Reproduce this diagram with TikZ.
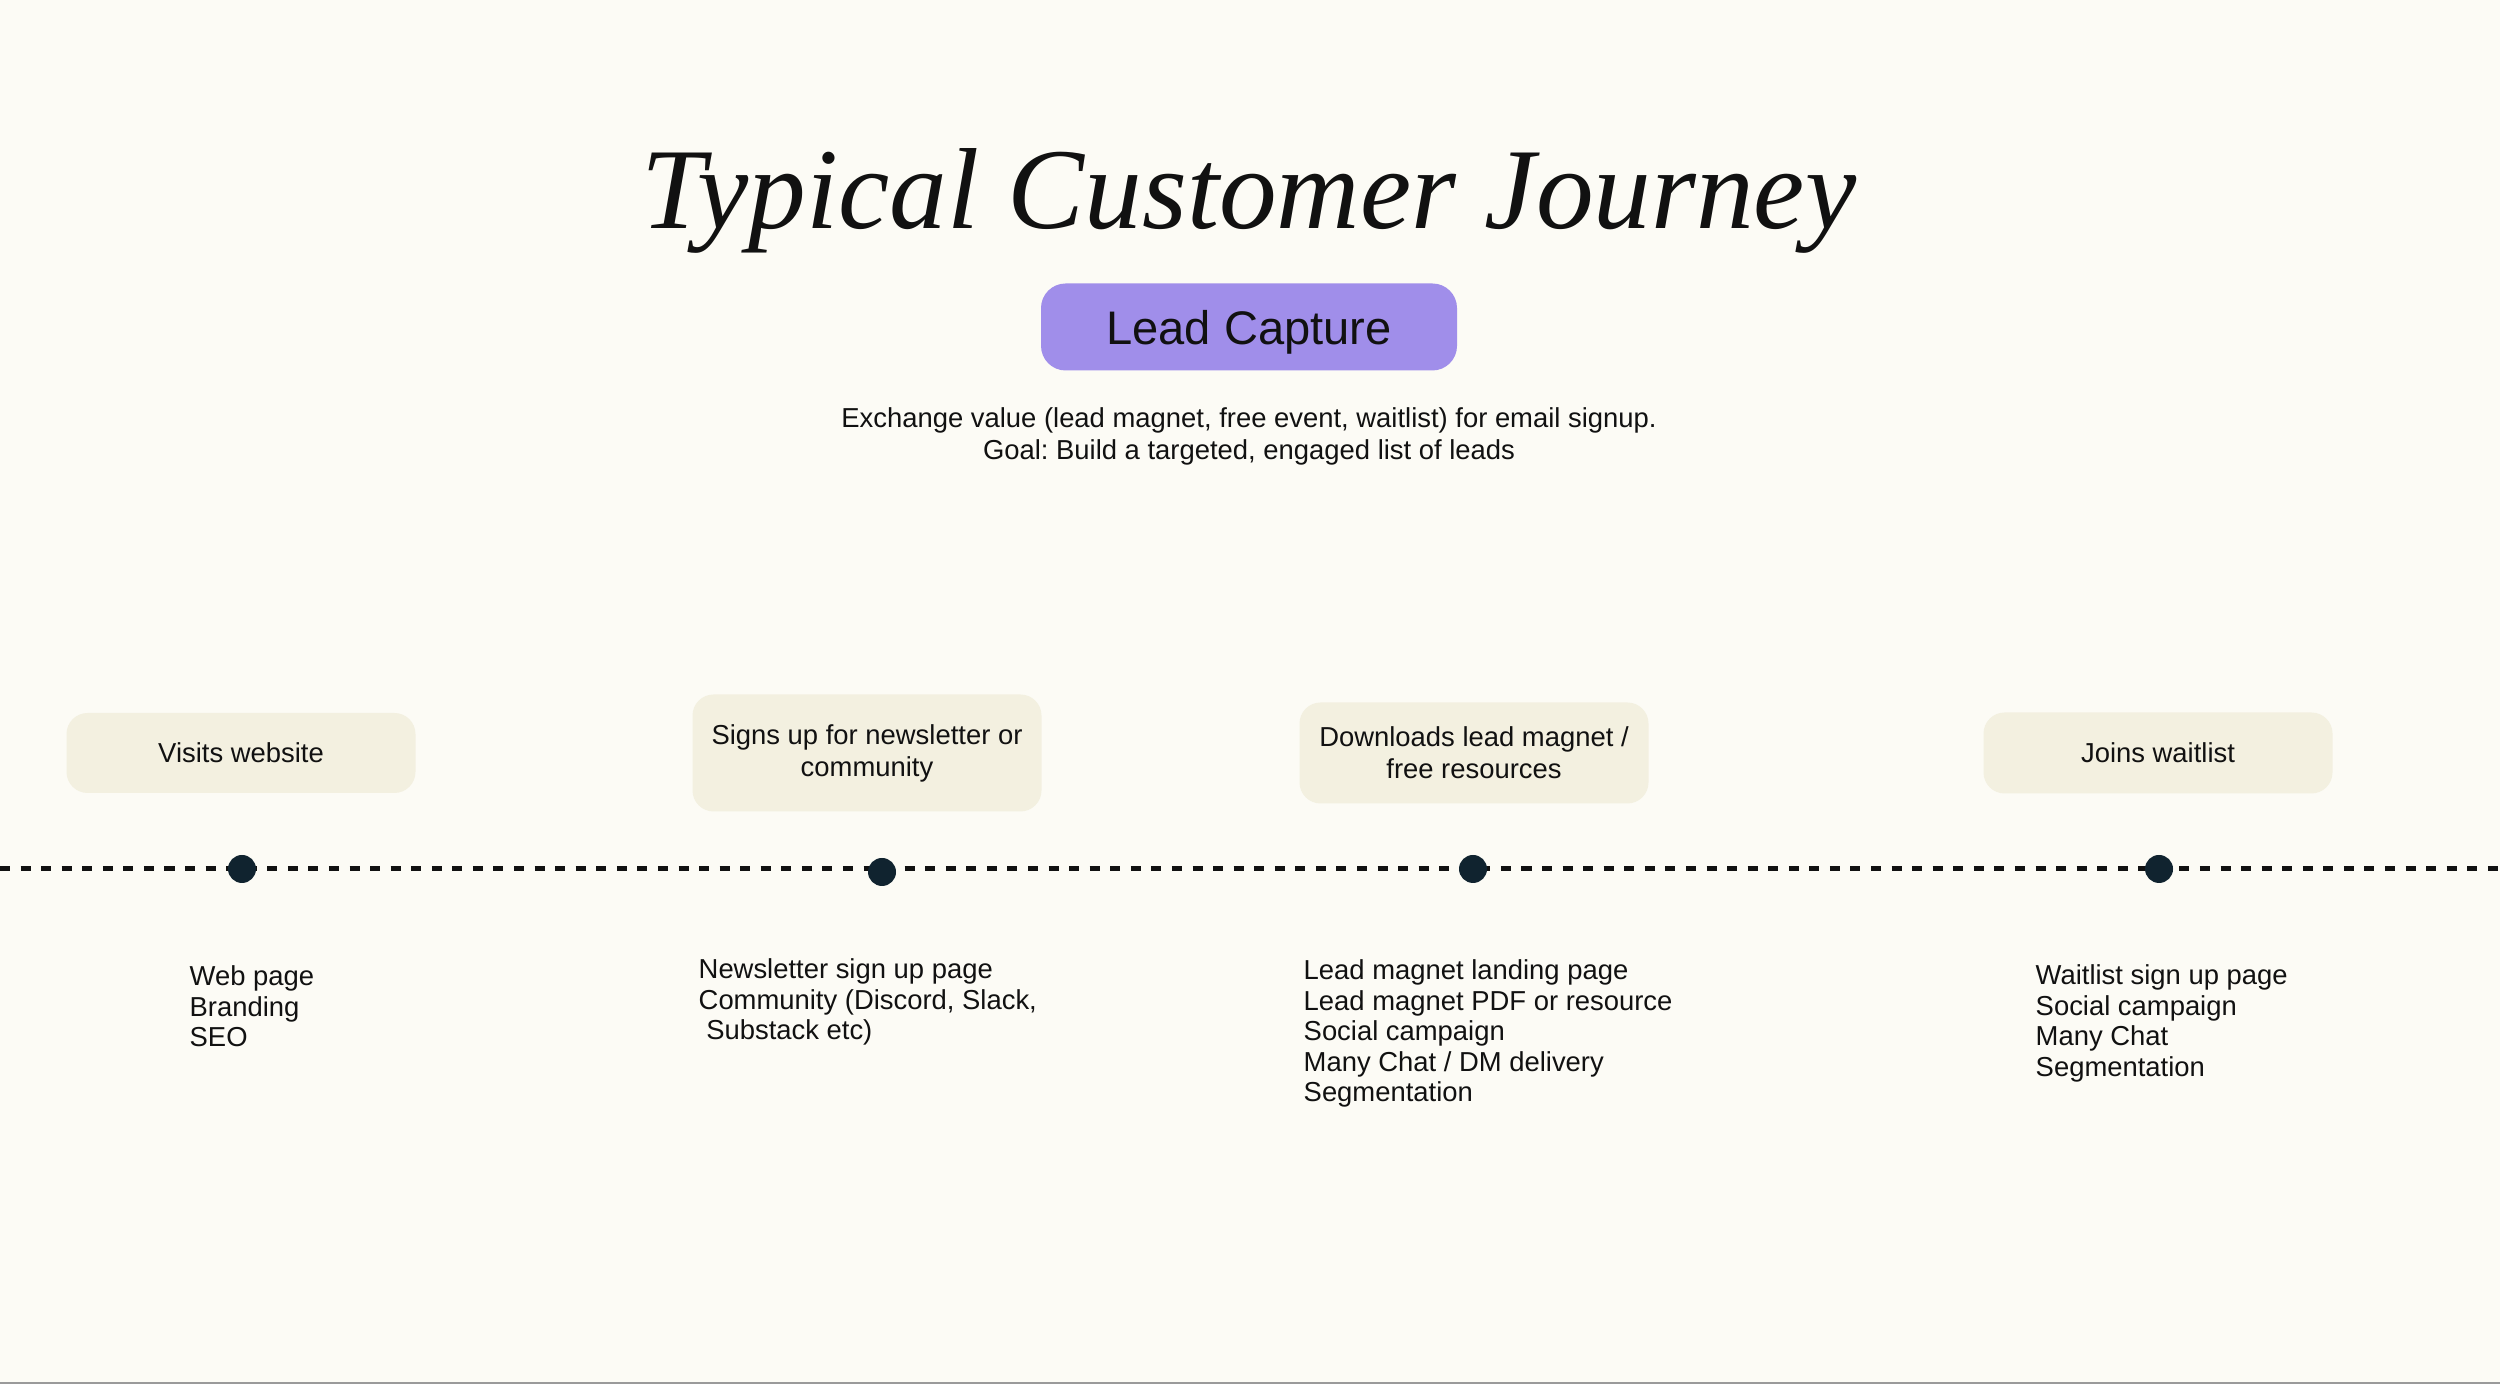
\documentclass[tikz,border=0pt]{standalone}
\usepackage{fontspec}
\setmainfont{Liberation Sans}
\newfontfamily\titlefont{Liberation Serif}
\frenchspacing
\usetikzlibrary{positioning}
\definecolor{paper}{HTML}{FCFBF5}
\definecolor{cream}{HTML}{F3F0E0}
\definecolor{lilac}{HTML}{A08EEA}
\definecolor{ink}{HTML}{111111}
\definecolor{navy}{HTML}{10232F}
\definecolor{edge}{HTML}{9A9A9A}
\tikzset{
  title/.style={font=\titlefont\itshape\fontsize{32.8}{36}\selectfont,text=ink,anchor=base},
  leadbox/.style={rounded corners=7pt,fill=lilac,minimum width=4.16cm,minimum height=0.87cm,text depth=0pt,font=\fontsize{13.4}{15}\selectfont,text=ink},
  body/.style={font=\fontsize{7.8}{9.1}\selectfont,text=ink,align=center},
  stepbox/.style={rounded corners=6pt,fill=cream,minimum width=3.49cm,font=\fontsize{7.8}{9.1}\selectfont,text=ink,align=center},
  items/.style={font=\fontsize{7.8}{8.7}\selectfont,text=ink,align=left,anchor=north west,inner sep=0pt},
  dot/.style={circle,fill=navy,minimum size=0.28cm,inner sep=0pt},
  timeline/.style={draw=ink,line width=1.42pt,dash pattern=on 2.85pt off 3pt}
}
\begin{document}
\begin{tikzpicture}[x=1cm,y=1cm]
\fill[paper] (0,0) rectangle (25,13.84);
\path[use as bounding box] (0,0) rectangle (25,13.84);
\fill[edge] (0,0) rectangle (25,0.015);
\node[title] (head) at (12.49,11.55) {Typical Customer Journey};
\node[leadbox] (lead) at (12.49,10.57) {Lead Capture};
\node[body] (goal) at (12.49,9.48) {Exchange value (lead magnet, free event, waitlist) for email signup.\\Goal: Build a targeted, engaged list of leads};
% timeline
\coordinate (tl) at (0,5.15);
\coordinate (tr) at (25,5.15);
\draw[timeline] (tl) -- (tr);
\node[dot] (d1) at (2.42,5.15) {};
\node[dot] (d2) at (8.82,5.12) {};
\node[dot] (d3) at (14.73,5.15) {};
\node[dot] (d4) at (21.59,5.15) {};
% steps
\node[stepbox,minimum height=0.80cm] (visit) at (2.41,6.31) {Visits website};
\node[stepbox,minimum height=1.17cm] (signup) at (8.67,6.31) {Signs up for newsletter or\\community};
\node[stepbox,minimum height=1.01cm] (download) at (14.74,6.31) {Downloads lead magnet /\\free resources};
\node[stepbox,minimum height=0.81cm] (waitlist) at (21.58,6.31) {Joins waitlist};
% touchpoints
\node[items] (visitlist) at (1.89,4.19) {Web page\\Branding\\SEO};
\node[items] (signuplist) at (6.98,4.26) {Newsletter sign up page\\Community (Discord, Slack,\\\ Substack etc)};
\node[items] (downloadlist) at (13.03,4.25) {Lead magnet landing page\\Lead magnet PDF or resource\\Social campaign\\Many Chat / DM delivery\\Segmentation};
\node[items] (waitlistlist) at (20.35,4.20) {Waitlist sign up page\\Social campaign\\Many Chat\\Segmentation};
\end{tikzpicture}
\end{document}
